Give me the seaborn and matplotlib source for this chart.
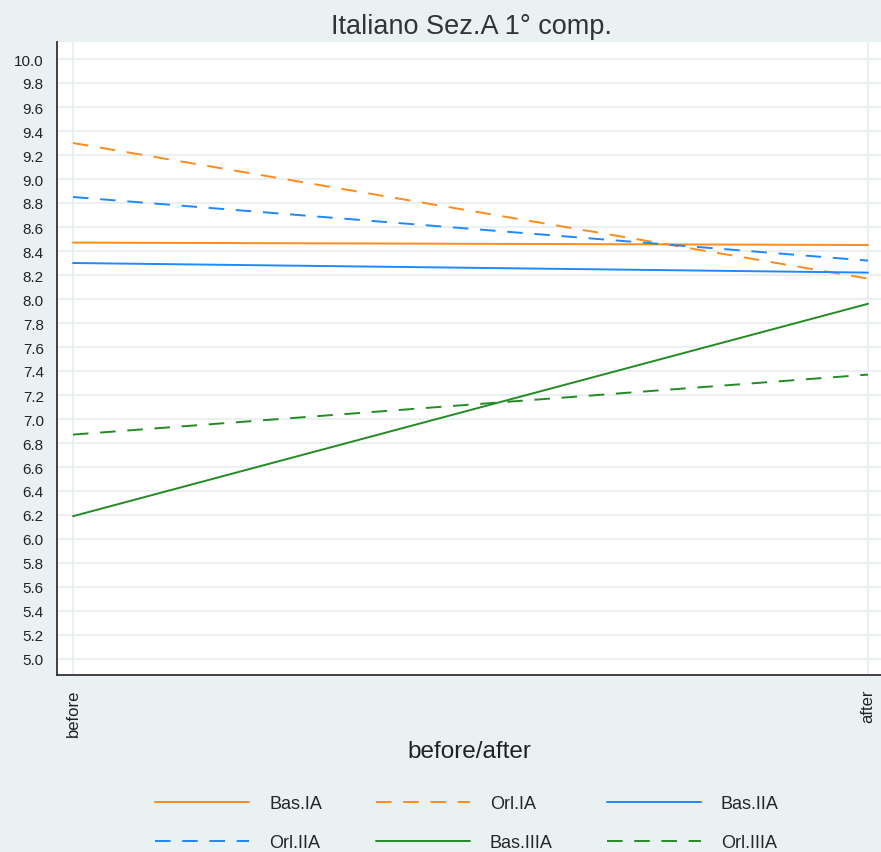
import matplotlib
matplotlib.use("Agg")
import matplotlib.pyplot as plt
import seaborn as sns
import pandas as pd
from matplotlib.lines import Line2D

# ---- data ----
periods = ["before", "after"]
series_names = ["Bas.IA", "Orl.IA", "Bas.IIA", "Orl.IIA", "Bas.IIIA", "Orl.IIIA"]
bas_ia = [8.47, 8.45]
orl_ia = [9.30, 8.17]
bas_iia = [8.30, 8.22]
orl_iia = [8.85, 8.32]
bas_iiia = [6.19, 7.96]
orl_iiia = [6.87, 7.37]
y_ticks = [5.0, 5.2, 5.4, 5.6, 5.8, 6.0, 6.2, 6.4, 6.6, 6.8, 7.0, 7.2, 7.4, 7.6,
           7.8, 8.0, 8.2, 8.4, 8.6, 8.8, 9.0, 9.2, 9.4, 9.6, 9.8, 10.0]

values = [bas_ia, orl_ia, bas_iia, orl_iia, bas_iiia, orl_iiia]
rows = []
for name, vals in zip(series_names, values):
    for i, (p, v) in enumerate(zip(periods, vals)):
        rows.append({"series": name, "x": i, "period": p, "value": v})
df = pd.DataFrame(rows)

orange = "#FF8A1C"
blue = "#1E88FF"
green = "#238B23"
palette = {"Bas.IA": orange, "Orl.IA": orange, "Bas.IIA": blue,
           "Orl.IIA": blue, "Bas.IIIA": green, "Orl.IIIA": green}
dash = (8, 6)
dashes = {"Bas.IA": "", "Orl.IA": dash, "Bas.IIA": "", "Orl.IIA": dash,
          "Bas.IIIA": "", "Orl.IIIA": dash}

bg = "#E9F1F3"
sns.set_style("white")
plt.rcParams["font.family"] = ["Liberation Sans", "DejaVu Sans"]

fig = plt.figure(figsize=(8.81, 8.53), dpi=100, facecolor=bg)
ax = fig.add_axes([57 / 881, 1 - 676 / 853, 1 - 57 / 881, (676 - 43) / 853])
ax.set_facecolor("white")

sns.lineplot(data=df, x="x", y="value", hue="series", style="series",
             palette=palette, dashes=dashes, hue_order=series_names,
             style_order=series_names, linewidth=1.4, ax=ax, legend=False,
             zorder=3)

ax.set_ylim(10 - (676 - 60) / 120, 10 + 17 / 120)
ax.set_xlim(-16 / 795, 1 + 13 / 795)
ax.set_yticks(y_ticks)
ax.set_yticklabels([f"{t:.1f}" for t in y_ticks], fontsize=11, color="#222222")
ax.set_xticks([0, 1])
ax.set_xticklabels(periods, rotation=90, fontsize=12, color="#222222")
ax.tick_params(axis="both", direction="out", length=6, width=1.2, color="#333333")
ax.tick_params(axis="x", pad=4)

ax.grid(True, color="#E6EDF0", linewidth=1.2, zorder=0)
ax.set_axisbelow(True)
for s in ["top", "right"]:
    ax.spines[s].set_visible(False)
for s in ["left", "bottom"]:
    ax.spines[s].set_color("#333333")
    ax.spines[s].set_linewidth(1.3)

ax.set_xlabel("before/after", fontsize=17.5, color="#222222", labelpad=3)
ax.set_ylabel("")
fig.text(0.535, 1 - 27 / 853, "Italiano Sez.A 1° comp.", ha="center", va="center",
         fontsize=19.5, color="#333333")

# legend (row-major order as in the reference)
handles = {}
for name in series_names:
    ls = (0, dash) if dashes[name] else "-"
    handles[name] = Line2D([0], [0], color=palette[name], linestyle=ls, linewidth=1.4)
order = [0, 3, 1, 4, 2, 5]
leg = fig.legend([handles[series_names[i]] for i in order],
                 [series_names[i] for i in order], ncol=3, loc="center",
                 bbox_to_anchor=(0.530, 1 - 824 / 853), frameon=False,
                 fontsize=13, handlelength=5.2, handletextpad=1.1,
                 columnspacing=3.0, labelspacing=1.2)

fig.savefig("out.png", dpi=100, facecolor=bg)
